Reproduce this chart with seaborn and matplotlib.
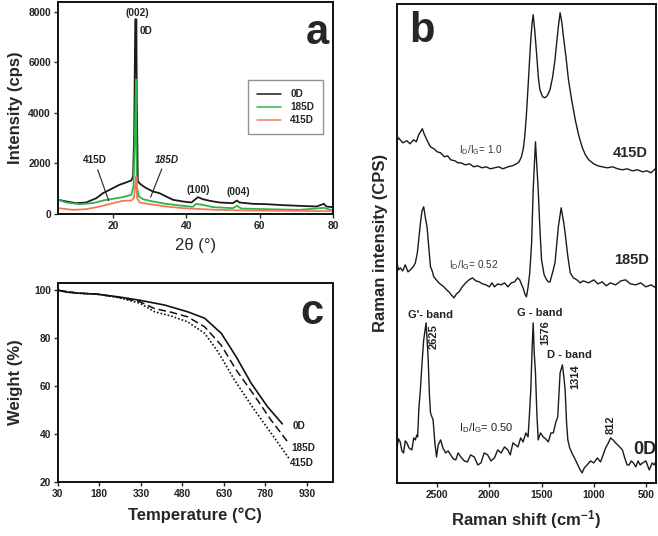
import numpy as np
import pandas as pd
import matplotlib
matplotlib.use("Agg")
import matplotlib.pyplot as plt
from matplotlib.lines import Line2D
import seaborn as sns

# ---------------- data: (a) XRD ----------------
xrd_0d_x = [5.1, 7.3, 10, 12.7, 15.5, 17.3, 20, 21.8, 23.6, 25, 25.5, 25.8, 26.1, 26.4, 26.5, 26.8,
            27.7, 29.1, 30.9, 32.7, 34.5, 36.4, 39.1, 41.4, 42.3, 43.2, 44.5, 46.4, 49.1, 52.7, 53.8,
            54.5, 58.2, 61.8, 66.4, 70.9, 75.5, 77.5, 78.2, 80]
xrd_0d_y = [556, 490, 423, 450, 622, 820, 1019, 1151, 1244, 1323, 1482, 3200, 7700, 7700, 4525, 1283,
            1151, 1019, 886, 820, 688, 556, 490, 450, 556, 661, 582, 516, 450, 423, 529,
            450, 397, 384, 344, 318, 291, 397, 291, 265]
xrd_185_x = [5.1, 7.3, 10.9, 14.5, 17.3, 20, 22.7, 25, 25.6, 26.0, 26.3, 26.5, 27.1, 28.2, 30.9,
             34.5, 39.1, 41.8, 42.7, 44.5, 47.3, 52.7, 53.8, 55, 61.8, 70.9, 77.5, 80]
xrd_185_y = [556, 450, 384, 423, 529, 595, 661, 754, 1085, 3200, 5318, 1085, 688, 582, 490,
             397, 318, 278, 397, 357, 265, 225, 318, 212, 185, 159, 238, 132]
xrd_415_x = [5.1, 9.1, 12.7, 16.4, 20, 22.7, 25, 25.7, 26.2, 26.4, 26.6, 27.3, 30, 34.5, 39.1,
             42.7, 48.2, 57.3, 66.4, 80]
xrd_415_y = [225, 159, 185, 291, 423, 516, 529, 622, 1283, 1482, 622, 450, 384, 291, 225,
             198, 159, 132, 119, 106]
xrd_labels = ["0D", "185D", "415D"]
xrd_colors = ["#1a1a1a", "#2fb34a", "#f27a5a"]

# ---------------- data: (c) TGA ----------------
tga_0d_t = [30, 60, 100, 175, 250, 326, 380, 416, 499, 561, 621, 675, 729, 788, 842]
tga_0d_w = [100, 99.2, 98.8, 98.3, 97.2, 95.8, 94.6, 93.8, 91, 88.3, 82, 72.2, 61.2, 51.4, 44.2]
tga_185_t = [30, 100, 175, 250, 326, 380, 440, 499, 561, 621, 675, 741, 801, 867]
tga_185_w = [100, 98.8, 98.3, 97.0, 95.2, 92.3, 90.8, 88.9, 84.7, 77, 66.7, 56, 45.8, 35.8]
tga_415_t = [30, 100, 175, 250, 326, 380, 440, 499, 561, 609, 669, 741, 801, 867]
tga_415_w = [100, 98.8, 98.3, 96.9, 94.6, 91.0, 89.2, 86.8, 82, 74.3, 62.5, 50, 40.4, 29.6]

# ---------------- data: (b) Raman (arbitrary intensity, stacked) ----------------
ram_415_x = [2884, 2871, 2830, 2789, 2760, 2726, 2700, 2677, 2660, 2642, 2625, 2612, 2590, 2564, 2530,
             2500, 2467, 2430, 2400, 2370, 2330, 2300, 2273, 2230, 2190, 2150, 2113, 2070, 2030, 1990,
             1951, 1910, 1870, 1822, 1780, 1741, 1715, 1693, 1675, 1661, 1645, 1629, 1615, 1603, 1590,
             1580, 1565, 1548, 1530, 1516, 1490, 1467, 1445, 1419, 1395, 1371, 1355, 1339, 1322, 1305,
             1290, 1265, 1242, 1210, 1177, 1145, 1112, 1080, 1048, 1000, 960, 918, 870, 820, 770,
             725, 680, 630, 580, 531, 490, 450, 420, 402]
ram_415_y = [342, 345, 340, 342, 339, 343, 341, 348, 351, 354, 349, 346, 341, 336, 334,
             331, 330, 326, 327, 323, 322, 320, 320, 318, 319, 316, 317, 315, 316, 314,
             315, 316, 314, 316, 317, 319, 321, 326, 334, 346, 368, 396, 422, 443, 460,
             468, 452, 430, 405, 393, 386, 385, 387, 393, 405, 423, 440, 456, 470, 460,
             446, 425, 403, 382, 363, 348, 336, 328, 323, 319, 317, 316, 315, 316, 314,
             313, 314, 312, 313, 311, 312, 310, 313, 315]
ram_185_x = [2886, 2870, 2854, 2830, 2806, 2780, 2757, 2730, 2709, 2690, 2677, 2660, 2645, 2629, 2613,
             2597, 2580, 2564, 2548, 2532, 2508, 2484, 2460, 2435, 2410, 2387, 2365, 2339, 2315, 2290,
             2260, 2226, 2195, 2161, 2130, 2097, 2065, 2032, 2000, 1975, 1951, 1920, 1887, 1855, 1822,
             1790, 1758, 1730, 1709, 1690, 1677, 1660, 1645, 1630, 1613, 1595, 1580, 1558, 1532, 1516,
             1500, 1475, 1451, 1435, 1419, 1395, 1371, 1355, 1339, 1312, 1290, 1274, 1250, 1225, 1195,
             1161, 1130, 1100, 1048, 1000, 960, 918, 880, 840, 790, 740, 694, 650, 597, 550, 500, 450, 403]
ram_185_y = [220, 213, 215, 212, 218, 211, 213, 216, 220, 230, 243, 260, 272, 276, 265,
             256, 235, 216, 212, 206, 203, 200, 198, 196, 193, 191, 188, 185, 189, 191,
             196, 200, 203, 205, 202, 201, 199, 198, 196, 200, 196, 199, 198, 200, 196,
             200, 201, 205, 203, 198, 195, 189, 186, 195, 210, 240, 293, 341, 293, 255,
             223, 208, 203, 201, 201, 210, 220, 238, 256, 275, 262, 250, 228, 210, 205,
             203, 200, 202, 200, 203, 199, 201, 197, 200, 198, 202, 203, 199, 198, 200, 196, 198, 195]
ram_0d_x = [2884, 2870, 2854, 2838, 2822, 2806, 2790, 2770, 2742, 2725, 2709, 2695, 2687, 2675, 2661,
            2645, 2629, 2606, 2587, 2575, 2564, 2550, 2539, 2522, 2506, 2490, 2467, 2445, 2419, 2395,
            2370, 2345, 2322, 2300, 2273, 2240, 2209, 2180, 2145, 2110, 2080, 2050, 2016, 1985, 1951,
            1920, 1887, 1855, 1822, 1800, 1774, 1750, 1726, 1700, 1677, 1650, 1629, 1615, 1603, 1590,
            1580, 1570, 1558, 1545, 1532, 1510, 1484, 1460, 1435, 1410, 1387, 1365, 1345, 1322, 1300,
            1285, 1274, 1260, 1248, 1230, 1209, 1185, 1161, 1135, 1112, 1090, 1064, 1030, 1000, 965,
            935, 910, 886, 860, 838, 815, 790, 760, 725, 700, 680, 661, 640, 620, 597,
            575, 555, 532, 500, 468, 440, 420, 403]
ram_0d_y = [36, 44, 41, 32, 30, 42, 40, 35, 33, 45, 43, 48, 46, 75, 93,
            120, 143, 160, 126, 90, 70, 66, 63, 40, 26, 38, 43, 35, 30, 32,
            28, 24, 23, 30, 26, 22, 21, 28, 26, 18, 20, 30, 28, 22, 25,
            33, 30, 36, 33, 28, 40, 38, 36, 45, 41, 50, 46, 70, 93, 135,
            160, 130, 110, 70, 43, 50, 46, 44, 41, 50, 50, 60, 66, 110, 118,
            105, 93, 60, 43, 35, 30, 25, 20, 14, 10, 15, 18, 22, 20, 25,
            21, 28, 35, 40, 45, 43, 40, 37, 33, 24, 18, 18, 22, 20, 16,
            22, 18, 20, 22, 13, 20, 18, 22]

# ---------------- style ----------------
sns.set_style("ticks")
plt.rcParams['font.family'] = ['Liberation Sans', 'DejaVu Sans']
plt.rcParams['mathtext.default'] = 'regular'
plt.rcParams['axes.linewidth'] = 1.4

fig = plt.figure(figsize=(6.58, 5.36), dpi=100)
ax_a = fig.add_axes([0.088, 0.601, 0.418, 0.395])
ax_c = fig.add_axes([0.088, 0.101, 0.418, 0.371])
ax_b = fig.add_axes([0.603, 0.099, 0.394, 0.894])

tick_kw = dict(labelsize=7.4, length=3, width=1, direction='out', pad=2)

def style_ticks(ax):
    ax.tick_params(**tick_kw)
    for lab in ax.get_xticklabels() + ax.get_yticklabels():
        lab.set_fontweight('bold')
        lab.set_color('#222222')
    for sp in ax.spines.values():
        sp.set_visible(True)
        sp.set_color('#111111')

# ---------- (a) ----------
for xs, ys, c in [(xrd_0d_x, xrd_0d_y, xrd_colors[0]),
                  (xrd_185_x, xrd_185_y, xrd_colors[1]),
                  (xrd_415_x, xrd_415_y, xrd_colors[2])]:
    sns.lineplot(x=xs, y=ys, ax=ax_a, color=c, linewidth=1.3, estimator=None, sort=False)
ax_a.set_xlim(5, 80)
ax_a.set_ylim(0, 8380)
ax_a.set_xticks([20, 40, 60, 80])
ax_a.set_yticks([0, 2000, 4000, 6000, 8000])
style_ticks(ax_a)
ax_a.set_xlabel("2θ (°)", fontsize=12, labelpad=5)
ax_a.set_ylabel("Intensity (cps)", fontsize=12, fontweight='bold', labelpad=4)
ax_a.text(0.985, 0.95, "a", transform=ax_a.transAxes, fontsize=30, fontweight='bold',
          ha='right', va='top')
ann = dict(fontsize=7.2, fontweight='bold', color='#222222')
ax_a.text(26.6, 7950, "(002)", ha='center', va='center', **ann)
ax_a.text(27.2, 7230, "0D", ha='left', va='center', **ann)
ax_a.text(15.0, 2140, "415D", ha='center', va='center', **ann)
ax_a.text(34.8, 2140, "185D", ha='center', va='center', style='italic', **ann)
ax_a.text(43.2, 950, "(100)", ha='center', va='center', **ann)
ax_a.text(54.3, 885, "(004)", ha='center', va='center', **ann)
ax_a.annotate("", xy=(19.1, 420), xytext=(15.6, 1850),
              arrowprops=dict(arrowstyle='-', color='#222222', lw=0.8))
ax_a.annotate("", xy=(30.0, 560), xytext=(33.6, 1880),
              arrowprops=dict(arrowstyle='-', color='#222222', lw=0.8))
handles = [Line2D([], [], color=c, lw=1.1) for c in xrd_colors]
leg = ax_a.legend(handles, xrd_labels, loc='upper right', bbox_to_anchor=(0.964, 0.632),
                  fontsize=7.2, frameon=True, fancybox=False, handlelength=2.4,
                  labelspacing=0.3, borderpad=0.9, handletextpad=0.9, borderaxespad=0)
leg.get_frame().set_edgecolor('#777777')
leg.get_frame().set_linewidth(1.0)
for t in leg.get_texts():
    t.set_fontweight('bold')

# ---------- (c) ----------
sns.lineplot(x=tga_0d_t, y=tga_0d_w, ax=ax_c, color='#111111', linewidth=1.2,
             estimator=None, sort=False)
sns.lineplot(x=tga_185_t, y=tga_185_w, ax=ax_c, color='#111111', linewidth=1.1,
             estimator=None, sort=False, linestyle=(0, (5, 2.5)))
sns.lineplot(x=tga_415_t, y=tga_415_w, ax=ax_c, color='#111111', linewidth=1.2,
             estimator=None, sort=False, linestyle=(0, (1, 1.2)))
ax_c.set_xlim(30, 1025)
ax_c.set_ylim(20, 103)
ax_c.set_xticks([30, 180, 330, 480, 630, 780, 930])
ax_c.set_yticks([20, 40, 60, 80, 100])
style_ticks(ax_c)
ax_c.set_xlabel("Temperature (°C)", fontsize=12, fontweight='bold', labelpad=6)
ax_c.set_ylabel("Weight (%)", fontsize=12, fontweight='bold', labelpad=8)
ax_c.text(0.965, 0.95, "c", transform=ax_c.transAxes, fontsize=30, fontweight='bold',
          ha='right', va='top')
ax_c.text(880, 43.5, "0D", ha='left', va='center', **ann)
ax_c.text(873, 34.0, "185D", ha='left', va='center', **ann)
ax_c.text(868, 28.0, "415D", ha='left', va='center', **ann)

# ---------- (b) ----------
for xs, ys in [(ram_415_x, ram_415_y), (ram_185_x, ram_185_y), (ram_0d_x, ram_0d_y)]:
    sns.lineplot(x=xs, y=ys, ax=ax_b, color='#1a1a1a', linewidth=1.0, estimator=None, sort=False)
ax_b.set_xlim(2887, 403)
ax_b.set_ylim(0, 479)
ax_b.set_xticks([2500, 2000, 1500, 1000, 500])
ax_b.set_yticks([])
style_ticks(ax_b)
ax_b.set_xlabel("Raman shift (cm$^{-1}$)", fontsize=12, fontweight='bold', labelpad=6)
ax_b.set_ylabel("Raman intensity (CPS)", fontsize=12, fontweight='bold', labelpad=6)
ax_b.text(0.05, 0.985, "b", transform=ax_b.transAxes, fontsize=30, fontweight='bold',
          ha='left', va='top')
ax_b.text(819, 330, "415D", ha='left', va='center', fontsize=10.5, fontweight='bold')
ax_b.text(809, 223, "185D", ha='left', va='center', fontsize=10.5, fontweight='bold')
ax_b.text(617, 33, "0D", ha='left', va='center', fontsize=13, fontweight='bold')
rk = dict(fontsize=7.2, color='#333333')
ax_b.text(2290, 333, "I$_D$/I$_G$= 1.0", ha='left', va='center', **rk)
ax_b.text(2387, 218, "I$_D$/I$_G$= 0.52", ha='left', va='center', **rk)
ax_b.text(2290, 55, "I$_D$/I$_G$= 0.50", ha='left', va='center', fontsize=8, color='#222222')
bk = dict(fontsize=8, fontweight='bold', color='#222222')
ax_b.text(2567, 168, "G'- band", ha='center', va='center', **bk)
ax_b.text(1516, 170, "G - band", ha='center', va='center', **bk)
ax_b.text(1235, 128, "D - band", ha='center', va='center', **bk)
ax_b.text(2532, 146, "2625", ha='center', va='center', rotation=90, **bk)
ax_b.text(1467, 150, "1576", ha='center', va='center', rotation=90, **bk)
ax_b.text(1177, 106, "1314", ha='center', va='center', rotation=90, **bk)
ax_b.text(838, 58, "812", ha='center', va='center', rotation=90, **bk)

fig.savefig("out.png", dpi=100)
